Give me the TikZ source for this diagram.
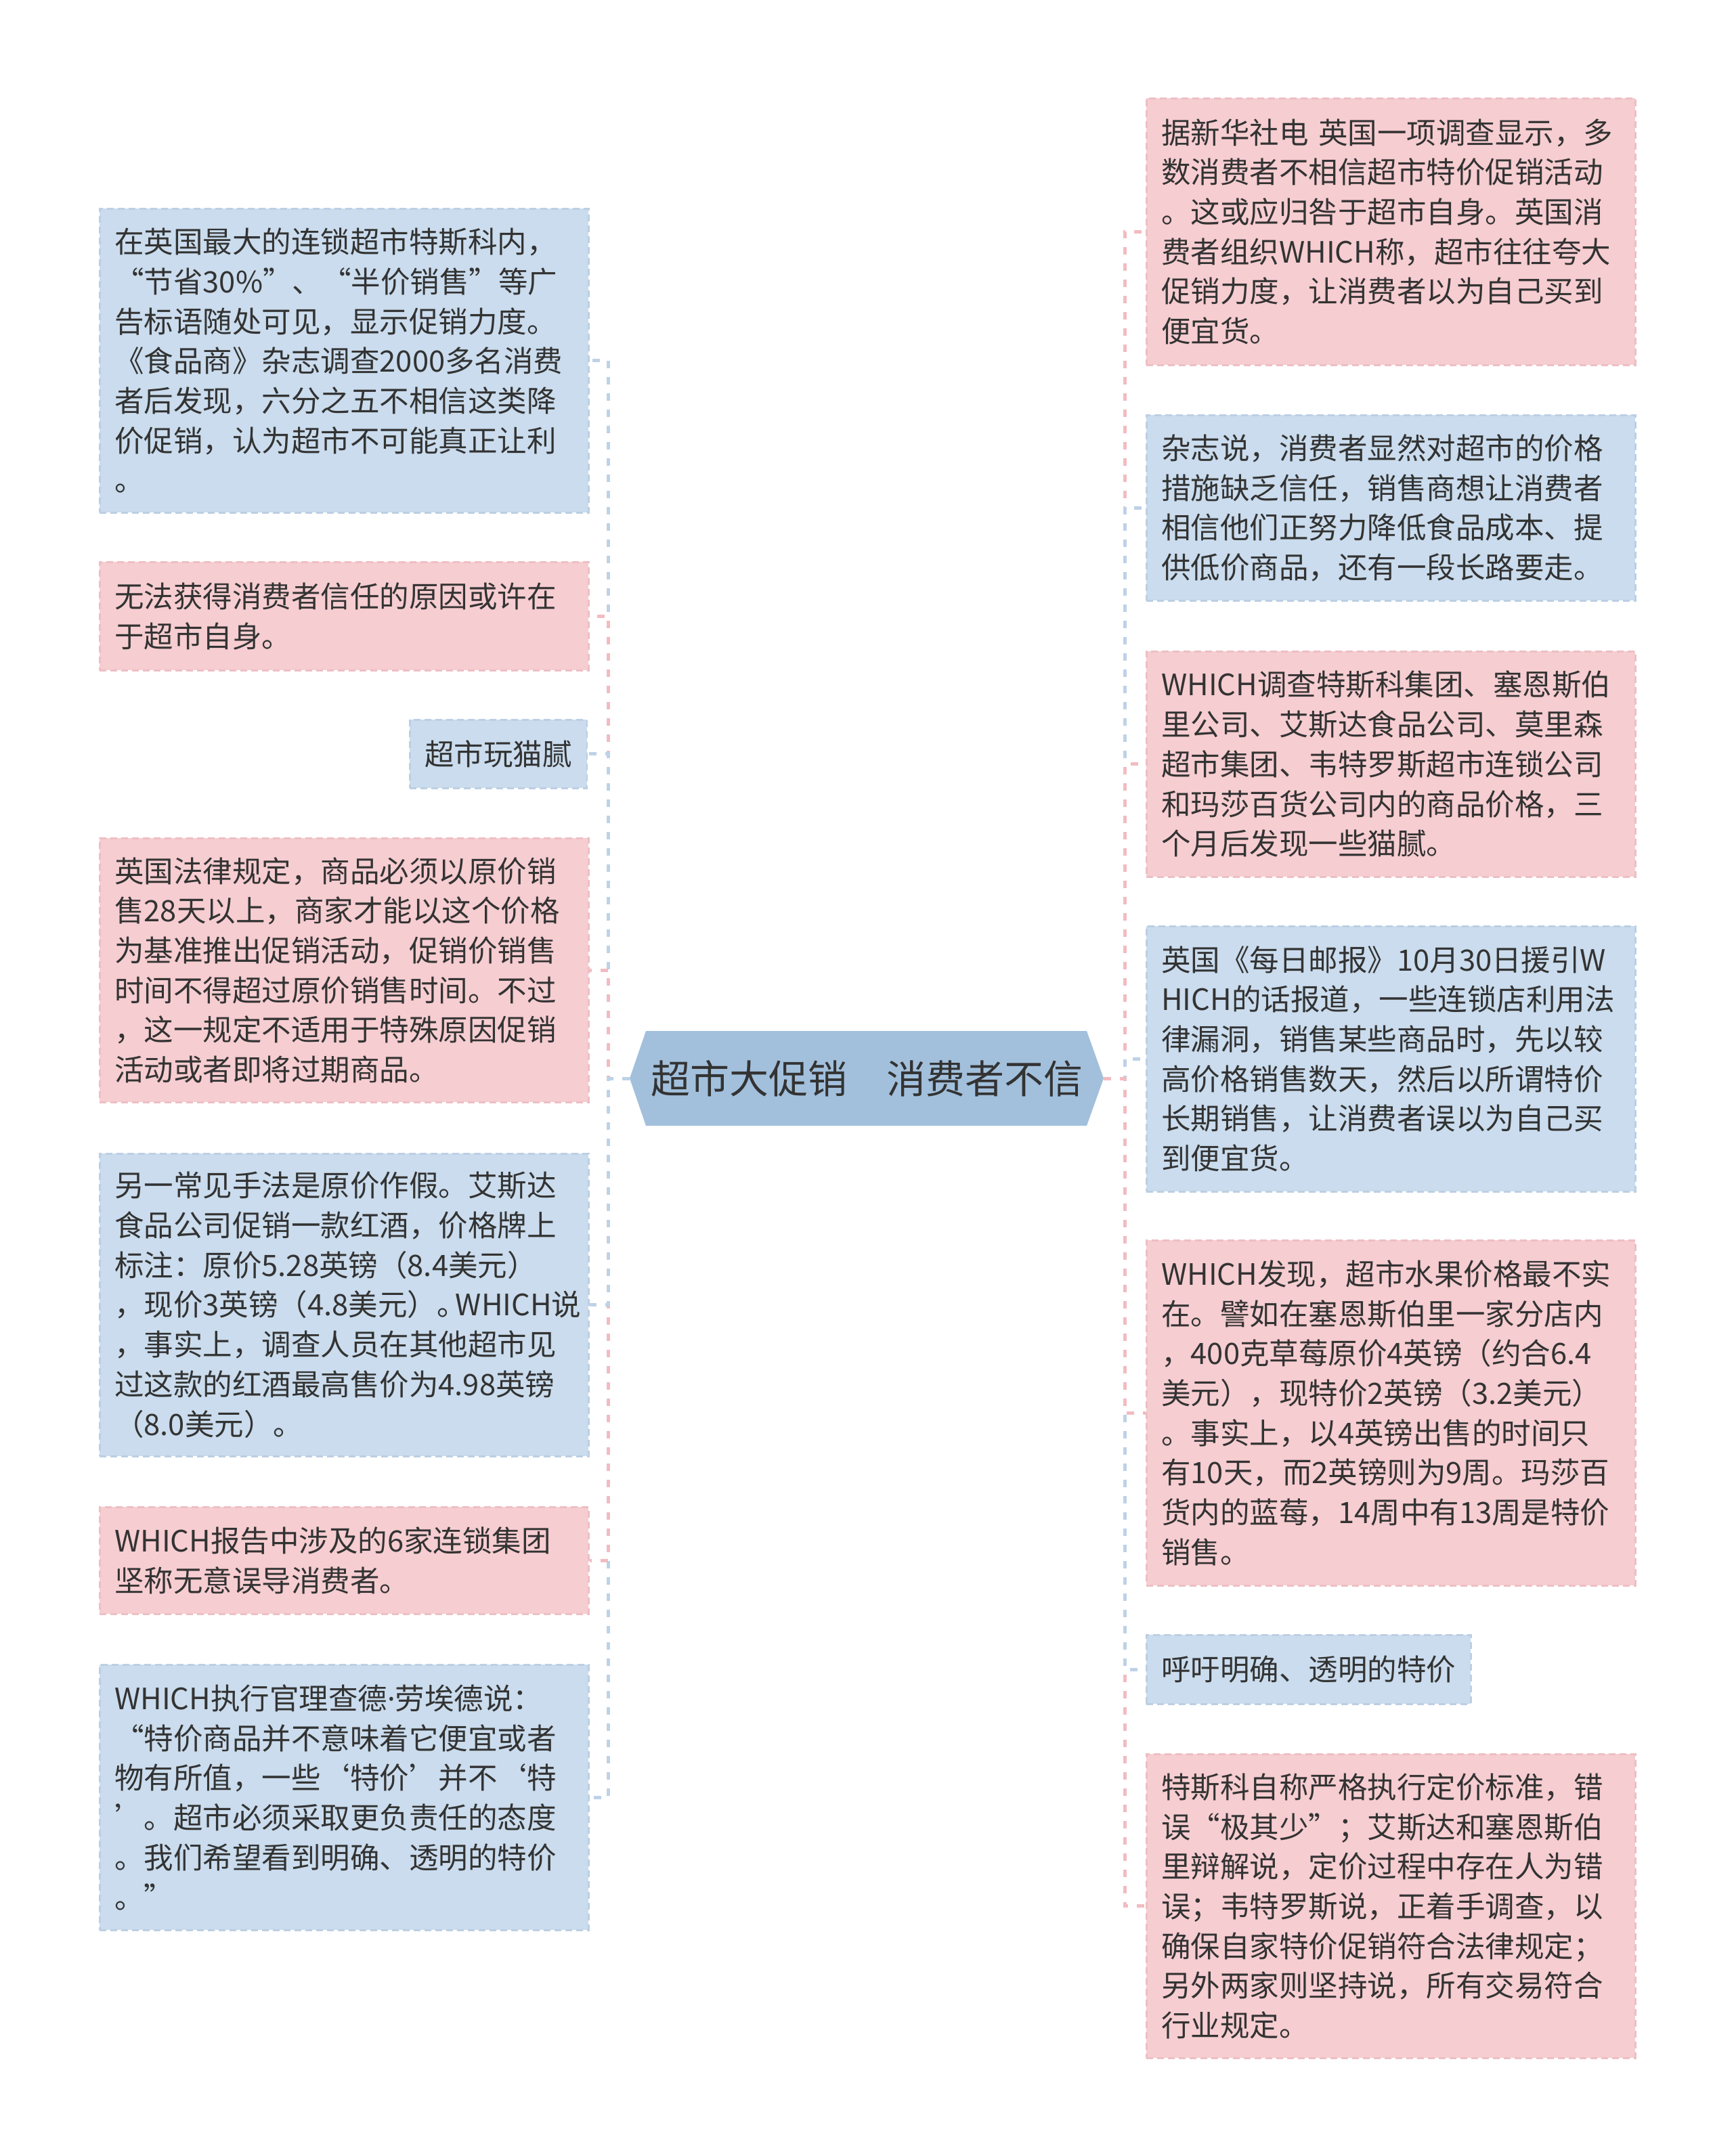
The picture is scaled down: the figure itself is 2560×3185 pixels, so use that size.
\documentclass[tikz,border=0pt]{standalone}
\usepackage{fontspec}
\setmainfont{Noto Sans CJK SC}
\newfontfamily\latinpart{Noto Sans}
\definecolor{pinkfill}{HTML}{F6CDD1}
\definecolor{bluefill}{HTML}{CADCED}
\definecolor{pinkedge}{HTML}{EDBFC3}
\definecolor{blueedge}{HTML}{BCCFE3}
\definecolor{pinkline}{HTML}{F2BBC1}
\definecolor{blueline}{HTML}{BDD2E7}
\definecolor{hexfill}{HTML}{A2C0DC}
\definecolor{txt}{HTML}{333333}
\tikzset{
  x=1pt, y=-1pt,
  boxbase/.style={inner xsep=22pt, inner ysep=0pt, align=left, text=txt,
    font=\fontsize{43.5pt}{58.7pt}\selectfont, line width=2.5pt,
    dash pattern=on 10pt off 6pt},
  pinkbox/.style={boxbase, fill=pinkfill, draw=pinkedge},
  bluebox/.style={boxbase, fill=bluefill, draw=blueedge},
  wide/.style={text width=678pt},
  pconn/.style={draw=pinkline, line width=5pt, dash pattern=on 11pt off 13pt},
  bconn/.style={draw=blueline, line width=5pt, dash pattern=on 11pt off 13pt},
}
\begin{document}
\begin{tikzpicture}
\useasboundingbox (0,0) rectangle (2560,3185);
\fill[white] (0,0) rectangle (2560,3185);

% ---------- left nodes ----------
\node[bluebox, wide, anchor=north west, minimum height=449pt] (L1) at (146,307)
 {在英国最大的连锁超市特斯科内，\\“节省30\%”、“半价销售”等广\\告标语随处可见，显示促销力度。\\《食品商》杂志调查2000多名消费\\者后发现，六分之五不相信这类降\\价促销，认为超市不可能真正让利\\。};
\node[pinkbox, wide, anchor=north west, minimum height=160pt] (L2) at (146,829)
 {无法获得消费者信任的原因或许在\\于超市自身。};
\node[bluebox, anchor=north east, minimum height=101pt] (L3) at (868,1062)
 {超市玩猫腻};
\node[pinkbox, wide, anchor=north west, minimum height=390pt] (L4) at (146,1237)
 {英国法律规定，商品必须以原价销\\售28天以上，商家才能以这个价格\\为基准推出促销活动，促销价销售\\时间不得超过原价销售时间。不过\\，这一规定不适用于特殊原因促销\\活动或者即将过期商品。};
\node[bluebox, wide, anchor=north west, minimum height=447pt] (L5) at (146,1703)
 {另一常见手法是原价作假。艾斯达\\食品公司促销一款红酒，价格牌上\\标注：原价5.28英镑（8.4美元）\\，现价3英镑（4.8美元）。\kern-16pt WHICH说\\，事实上，调查人员在其他超市见\\过这款的红酒最高售价为4.98英镑\\（8.0美元）。};
\node[pinkbox, wide, anchor=north west, minimum height=158pt] (L6) at (146,2225)
 {WHICH报告中涉及的6家连锁集团\\坚称无意误导消费者。};
\node[bluebox, wide, anchor=north west, minimum height=392pt] (L7) at (146,2458)
 {WHICH执行官理查德{\latinpart ·}劳埃德说：\\“特价商品并不意味着它便宜或者\\物有所值，一些‘特价’并不‘特\\’。超市必须采取更负责任的态度\\。我们希望看到明确、透明的特价\\。”};

% ---------- right nodes ----------
\node[pinkbox, wide, anchor=north west, minimum height=394pt] (R1) at (1692,144)
 {据新华社电~英国一项调查显示，多\\数消费者不相信超市特价促销活动\\。这或应归咎于超市自身。英国消\\费者组织WHICH称，超市往往夸大\\促销力度，让消费者以为自己买到\\便宜货。};
\node[bluebox, wide, anchor=north west, minimum height=274pt] (R2) at (1692,612)
 {杂志说，消费者显然对超市的价格\\措施缺乏信任，销售商想让消费者\\相信他们正努力降低食品成本、提\\供低价商品，还有一段长路要走。};
\node[pinkbox, wide, anchor=north west, minimum height=333pt] (R3) at (1692,961)
 {WHICH调查特斯科集团、塞恩斯伯\\里公司、艾斯达食品公司、莫里森\\超市集团、韦特罗斯超市连锁公司\\和玛莎百货公司内的商品价格，三\\个月后发现一些猫腻。};
\node[bluebox, wide, anchor=north west, minimum height=392pt] (R4) at (1692,1367)
 {英国《每日邮报》10月30日援引W\\HICH的话报道，一些连锁店利用法\\律漏洞，销售某些商品时，先以较\\高价格销售数天，然后以所谓特价\\长期销售，让消费者误以为自己买\\到便宜货。};
\node[pinkbox, wide, anchor=north west, minimum height=510pt] (R5) at (1692,1831)
 {WHICH发现，超市水果价格最不实\\在。譬如在塞恩斯伯里一家分店内\\，400克草莓原价4英镑（约合6.4\\美元），现特价2英镑（3.2美元）\\。事实上，以4英镑出售的时间只\\有10天，而2英镑则为9周。玛莎百\\货内的蓝莓，14周中有13周是特价\\销售。};
\node[bluebox, anchor=north west, minimum height=102pt] (R6) at (1692,2414)
 {呼吁明确、透明的特价};
\node[pinkbox, wide, anchor=north west, minimum height=449pt] (R7) at (1692,2590)
 {特斯科自称严格执行定价标准，错\\误“极其少”；艾斯达和塞恩斯伯\\里辩解说，定价过程中存在人为错\\误；韦特罗斯说，正着手调查，以\\确保自家特价促销符合法律规定；\\另外两家则坚持说，所有交易符合\\行业规定。};

% ---------- centre ----------
\fill[hexfill] (930,1593) -- (954,1523) -- (1605,1523) -- (1630,1593)
  -- (1605,1663) -- (954,1663) -- cycle;
\node[inner sep=0pt, minimum width=700pt, minimum height=140pt, text=txt,
  font=\fontsize{58pt}{70pt}\selectfont] (C) at (1280,1593)
  {超市大促销　消费者不信};

% ---------- connectors (far first, nearest last) ----------
\draw[bconn] (C.west) -- ++(-31,0) |- (L1.east);
\draw[pconn] (C.west) -- ++(-31,0) |- (L2.east);
\draw[bconn] (C.west) -- ++(-31,0) |- (L3.east);
\draw[pconn] (C.west) -- ++(-31,0) |- (L4.east);
\draw[bconn] (C.west) -- ++(-31,0) |- (L7.east);
\draw[pconn] (C.west) -- ++(-31,0) |- (L6.east);
\draw[bconn] (C.west) -- ++(-31,0) |- (L5.east);

\draw[pconn] (C.east) -- ++(31,0) |- (R1.west);
\draw[bconn] (C.east) -- ++(31,0) |- (R2.west);
\draw[pconn] (C.east) -- ++(31,0) |- (R3.west);
\draw[bconn] (C.east) -- ++(31,0) |- (R4.west);
\draw[pconn] (C.east) -- ++(31,0) |- (R7.west);
\draw[bconn] (C.east) -- ++(31,0) |- (R6.west);
\draw[pconn] (C.east) -- ++(31,0) |- (R5.west);
\end{tikzpicture}
\end{document}
